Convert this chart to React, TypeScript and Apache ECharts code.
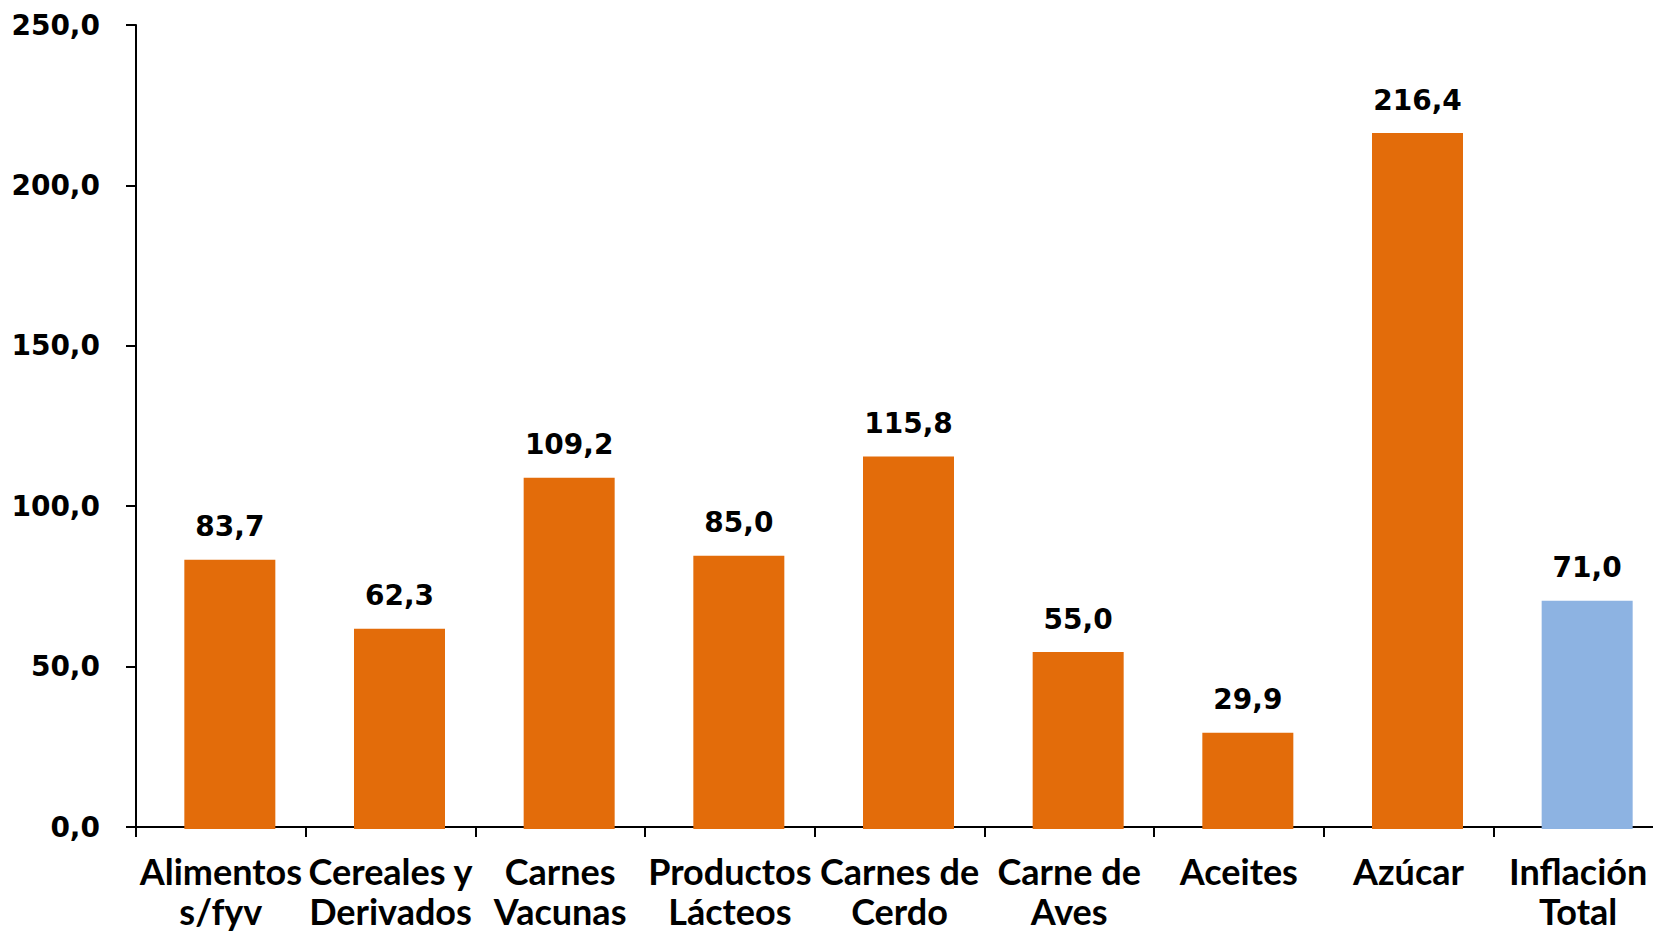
import React, { useEffect, useRef } from "react";
import * as echarts from "echarts";

const categories = [
  "Alimentos\ns/fyv",
  "Cereales y\nDerivados",
  "Carnes\nVacunas",
  "Productos\nLácteos",
  "Carnes de\nCerdo",
  "Carne de\nAves",
  "Aceites",
  "Azúcar",
  "Inflación\nTotal",
];
const values = [83.7, 62.3, 109.2, 85.0, 115.8, 55.0, 29.9, 216.4, 71.0];
const barColors = [
  "#E36C0A", "#E36C0A", "#E36C0A", "#E36C0A", "#E36C0A",
  "#E36C0A", "#E36C0A", "#E36C0A", "#8DB3E2",
];
const yMin = 0;
const yMax = 250;
const yInterval = 50;

const fmt = (v: number) => v.toFixed(1).replace(".", ",");

export default function App() {
  const ref = useRef<HTMLDivElement>(null);
  useEffect(() => {
    document.body.style.margin = "0";
    document.body.style.overflow = "hidden";
    document.documentElement.style.overflow = "hidden";
    if (!ref.current) return;
    const chart = echarts.init(ref.current, null, { renderer: "svg" });
    const numFont = "'DejaVu Sans', Verdana, sans-serif";
    const catFont = "Lato, 'Noto Sans', sans-serif";
    chart.setOption({
      animation: false,
      backgroundColor: "#ffffff",
      grid: [
        { left: 136, top: 25, width: 1527, bottom: 102 },
        { left: 145, top: 25, width: 1527, bottom: 102 },
      ],
      xAxis: [
        {
          type: "category",
          gridIndex: 0,
          data: categories,
          axisLine: { lineStyle: { color: "#000", width: 2 } },
          axisTick: { show: true, inside: false, length: 10, lineStyle: { color: "#000", width: 2 } },
          axisLabel: {
            interval: 0,
            margin: 24,
            color: "#000",
            fontFamily: catFont,
            fontWeight: "bold",
            fontSize: 36,
            lineHeight: 40,
          },
        },
        {
          type: "category",
          gridIndex: 1,
          data: categories,
          show: false,
        },
      ],
      yAxis: [
        {
          type: "value",
          gridIndex: 0,
          min: yMin,
          max: yMax,
          interval: yInterval,
          splitLine: { show: false },
          axisLine: { show: true, lineStyle: { color: "#000", width: 2 } },
          axisTick: { show: true, length: 10, lineStyle: { color: "#000", width: 2 } },
          axisLabel: {
            margin: 36,
            color: "#000",
            fontFamily: numFont,
            fontWeight: "bold",
            fontSize: 28,
            formatter: (v: number) => fmt(v),
          },
        },
        {
          type: "value",
          gridIndex: 1,
          min: yMin,
          max: yMax,
          interval: yInterval,
          show: false,
          splitLine: { show: false },
        },
      ],
      series: [
        {
          type: "bar",
          xAxisIndex: 1,
          yAxisIndex: 1,
          barWidth: 91,
          data: values.map((v, i) => ({ value: v, itemStyle: { color: barColors[i] } })),
          label: {
            show: true,
            position: "top",
            distance: 19,
            color: "#000",
            fontFamily: numFont,
            fontWeight: "bold",
            fontSize: 28,
            formatter: (p: any) => fmt(p.value),
          },
        },
      ],
    });
    return () => chart.dispose();
  }, []);
  return (
    <div style={{ width: 1653, height: 931, overflow: "hidden", position: "relative" }}>
      <div ref={ref} style={{ width: 1690, height: 931, position: "absolute", left: 0, top: 0 }} />
    </div>
  );
}
